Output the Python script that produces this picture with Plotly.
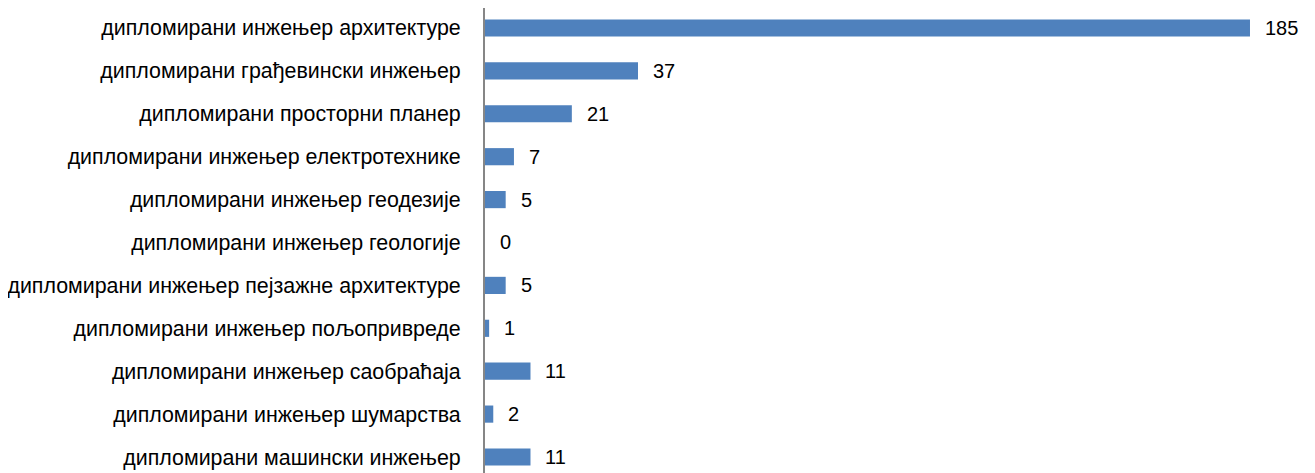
import plotly.graph_objects as go

categories = [
    "дипломирани инжењер архитектуре",
    "дипломирани грађевински инжењер",
    "дипломирани просторни планер",
    "дипломирани инжењер електротехнике",
    "дипломирани инжењер геодезије",
    "дипломирани инжењер геологије",
    "дипломирани инжењер пејзажне архитектуре",
    "дипломирани инжењер пољопривреде",
    "дипломирани инжењер саобраћаја",
    "дипломирани инжењер шумарства",
    "дипломирани машински инжењер",
]
values = [185, 37, 21, 7, 5, 0, 5, 1, 11, 2, 11]

FONT = "Liberation Sans, Arial, sans-serif"

fig = go.Figure()
fig.add_trace(go.Bar(
    x=values, y=categories, orientation="h",
    marker=dict(color="#4F81BD", line=dict(width=0)),
    width=0.4,
    hoverinfo="skip",
))

for c, v in zip(categories, values):
    fig.add_annotation(x=v, y=c, text=str(v), showarrow=False,
                       xanchor="left", yanchor="middle", xshift=13,
                       font=dict(family=FONT, size=20, color="#000000"))

fig.update_layout(
    width=1300, height=465,
    margin=dict(l=477, r=0, t=0, b=0),
    paper_bgcolor="white", plot_bgcolor="white",
    showlegend=False,
    font=dict(family=FONT, size=20, color="#000000"),
    xaxis=dict(range=[0, 199.03], visible=False, showgrid=False, zeroline=False),
    yaxis=dict(type="category", range=[10.373, -0.466],
               showline=True, linecolor="#868686", linewidth=2,
               showgrid=False, zeroline=False, ticks="",
               ticklabelstandoff=18,
               tickfont=dict(family=FONT, size=21.4, color="#000000")),
)

fig.write_html("out.html")
